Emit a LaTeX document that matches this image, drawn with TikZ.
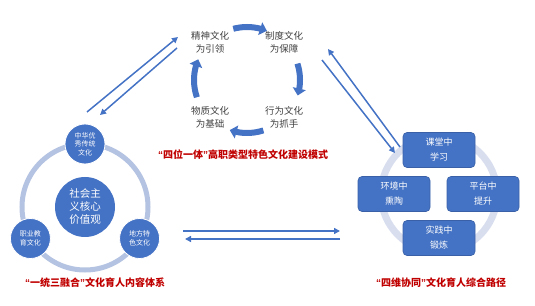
\documentclass[tikz,border=0pt]{standalone}
\usepackage{fontspec}
\setmainfont{Noto Sans CJK SC}
\newfontfamily\quotefont{Liberation Sans}
\usepackage{xcolor}
\usetikzlibrary{positioning, arrows.meta, bending}

\definecolor{mainblue}{HTML}{4472C4}
\definecolor{ringblue}{HTML}{B4C3E1}
\definecolor{ringpale}{HTML}{D9DEEF}
\definecolor{titlered}{HTML}{C00000}
\definecolor{textgray}{HTML}{404040}

\newcommand{\openq}{{\quotefont\bfseries “}}
\newcommand{\closeq}{{\quotefont\bfseries ”}}

\begin{document}
\begin{tikzpicture}[x=1pt, y=1pt, on grid, >={Triangle[length=6pt, width=6pt]},
    cyctext/.style={text=textgray, align=center, font=\fontsize{9.5}{13}\selectfont},
    bigarrow/.style={mainblue, line width=6pt, -{Triangle[length=7pt, width=13pt, flex]}},
    link/.style={mainblue, line width=1.5pt, ->},
    title/.style={text=titlered, font=\bfseries\fontsize{10}{12}\selectfont},
    core/.style={circle, fill=mainblue, text=white, align=center, inner sep=0pt,
        minimum size=60pt, font=\fontsize{10.5}{13}\selectfont},
    part/.style={circle, fill=mainblue, draw=white, line width=0.8pt, text=white,
        align=center, inner sep=0pt, minimum size=40pt, font=\fontsize{7}{8.5}\selectfont},
    pathbox/.style={rectangle, rounded corners=4pt, fill=mainblue, draw=mainblue!85!black,
        line width=0.6pt, text=white, align=center, minimum width=72pt, minimum height=35pt,
        font=\fontsize{9}{15}\selectfont}]

    \useasboundingbox (0,0) rectangle (535,305);

    % 四位一体
    \coordinate (cyc) at (247,225);
    \node[cyctext] (jingshen) at (210,263) {精神文化\\为引领};
    \node[cyctext] (zhidu) [right=74pt of jingshen] {制度文化\\为保障};
    \node[cyctext] (wuzhi) [below=75pt of jingshen] {物质文化\\为基础};
    \node[cyctext] (xingwei) [right=74pt of wuzhi] {行为文化\\为抓手};

    \draw[bigarrow] ([shift={(105:53)}]cyc) arc[start angle=105, end angle=68, radius=53];
    \draw[bigarrow] ([shift={(18:53)}]cyc) arc[start angle=18, end angle=-17, radius=53];
    \draw[bigarrow] ([shift={(-72:53)}]cyc) arc[start angle=-72, end angle=-109, radius=53];
    \draw[bigarrow] ([shift={(199:53)}]cyc) arc[start angle=199, end angle=157, radius=53];

    \node[title] (tmodel) at (243,150) {\openq 四位一体\closeq 高职类型特色文化建设模式};

    % 一统三融合
    \node[core] (hexin) at (85,98) {社会主\\义核心\\价值观};
    \draw[ringblue, line width=5pt] (hexin) circle[radius=63];
    \node[part] (zhonghua) at ([shift={(90:63)}]hexin) {中华优\\秀传统\\文化};
    \node[part] (zhiye) at ([shift={(210:63)}]hexin) {职业教\\育文化};
    \node[part] (difang) at ([shift={(330:63)}]hexin) {地方特\\色文化};
    \node[title] (tcontent) at (95,22) {\openq 一统三融合\closeq 文化育人内容体系};

    % 四维协同
    \coordinate (ring) at (439,111);
    \draw[ringpale, line width=7pt] (ring) circle[radius=58];
    \node[pathbox] (ketang) at (439,155) {课堂中\\学习};
    \node[pathbox] (huanjing) [below left=44pt and 45pt of ketang] {环境中\\熏陶};
    \node[pathbox] (pingtai) [below right=44pt and 44pt of ketang] {平台中\\提升};
    \node[pathbox] (shijian) [below=88pt of ketang] {实践中\\锻炼};
    \node[title] (tpath) at (441,22) {\openq 四维协同\closeq 文化育人综合路径};

    % 连接箭头
    \coordinate (la1) at (87,193);  \coordinate (la2) at (178,268);
    \coordinate (lb1) at (177,257); \coordinate (lb2) at (100,190);
    \coordinate (ra1) at (400,158); \coordinate (ra2) at (328,256);
    \coordinate (rb1) at (322,245); \coordinate (rb2) at (395,152);
    \coordinate (ba1) at (183,74);  \coordinate (ba2) at (340,74);
    \coordinate (bb1) at (340,66);  \coordinate (bb2) at (185,66);

    \draw[link] (la1) -- (la2);
    \draw[link] (lb1) -- (lb2);
    \draw[link] (ra1) -- (ra2);
    \draw[link] (rb1) -- (rb2);
    \draw[link] (ba1) -- (ba2);
    \draw[link] (bb1) -- (bb2);
\end{tikzpicture}
\end{document}
